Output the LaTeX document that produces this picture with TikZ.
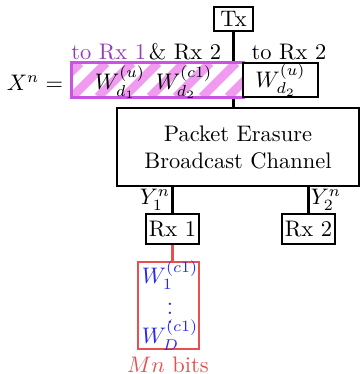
\documentclass[tikz,border=0pt]{standalone}
\usepackage{amsmath}
\definecolor{stripe}{RGB}{240,155,240}
\definecolor{hborder}{RGB}{200,85,225}
\definecolor{purptext}{RGB}{150,60,185}
\definecolor{redc}{RGB}{232,80,80}
\definecolor{bluec}{RGB}{40,40,240}
\newcommand{\px}{0.445pt}
\tikzset{
  box/.style={draw, line width=1.1pt, inner sep=0pt, fill=white},
  conn/.style={line width=1.1pt},
}
\begin{document}
\begin{tikzpicture}[x=0.445pt,y=-0.445pt]
\useasboundingbox (0,0) rectangle (360,374);
\node[box, minimum width=39*\px, minimum height=24*\px] (tx) at (233.5,19) {Tx};
\node[box, minimum width=242*\px, minimum height=78*\px, align=center] (ch) at (238,147) {Packet Erasure\\Broadcast Channel};
\draw[conn] (tx.south) -- (tx.south |- ch.north);
% hatched box
\node[draw=none, minimum width=171*\px, minimum height=34*\px, inner sep=0pt] (hb) at (157.5,80) {};
\fill[white] (hb.south west) rectangle (hb.north east);
\begin{scope}
  \clip (hb.south west) rectangle (hb.north east);
  \foreach \s in {28,54,...,290} {
    \draw[line width=8.5*\px, stripe] (\s-34,97) -- (\s,63);
  }
\end{scope}
\draw[line width=1.1pt, hborder] (hb.south west) rectangle (hb.north east);
\node at (120,82) {$W_{d_1}^{(u)}$};
\node at (184,82) {$W_{d_2}^{(c1)}$};
\node[box, minimum width=75*\px, minimum height=34*\px] (rb) at (280.5,80) {$W_{d_2}^{(u)}$};
\node[anchor=west, text=purptext, inner sep=0pt] (l1) at (71,52) {to Rx 1};
\node[inner sep=0pt] (l2) at (185,52) {\& Rx 2};
\node[inner sep=0pt] (l3) at (289,52) {to Rx 2};
\node[inner sep=0pt] (xn) at (35,83) {$X^n =$};
% receivers
\node[box, minimum width=53*\px, minimum height=30*\px] (rx1) at (172.5,229) {Rx 1};
\node[box, minimum width=53*\px, minimum height=30*\px] (rx2) at (308.5,229) {Rx 2};
\draw[conn] (rx1.north) -- (rx1.north |- ch.south);
\draw[conn] (rx2.north) -- (rx2.north |- ch.south);
\node[inner sep=0pt] (y1) at (155,200) {$Y_1^n$};
\node[inner sep=0pt] (y2) at (326,200) {$Y_2^n$};
% red box
\node[draw=redc, line width=1.1pt, minimum width=61*\px, minimum height=87*\px, inner sep=0pt] (rd) at (168.5,305.5) {};
\node[text=bluec, inner sep=0pt] (w1) at (170,275) {$W_1^{(c1)}$};
\node[text=bluec, inner sep=0pt] (wv) at (170,307) {$\vdots$};
\node[text=bluec, inner sep=0pt] (wd) at (170,335) {$W_D^{(c1)}$};
\draw[conn, redc] (rx1.south) -- (rx1.south |- rd.north);
\node[text=redc, inner sep=0pt] (mn) at (168,365) {$Mn$ bits};
\end{tikzpicture}
\end{document}
